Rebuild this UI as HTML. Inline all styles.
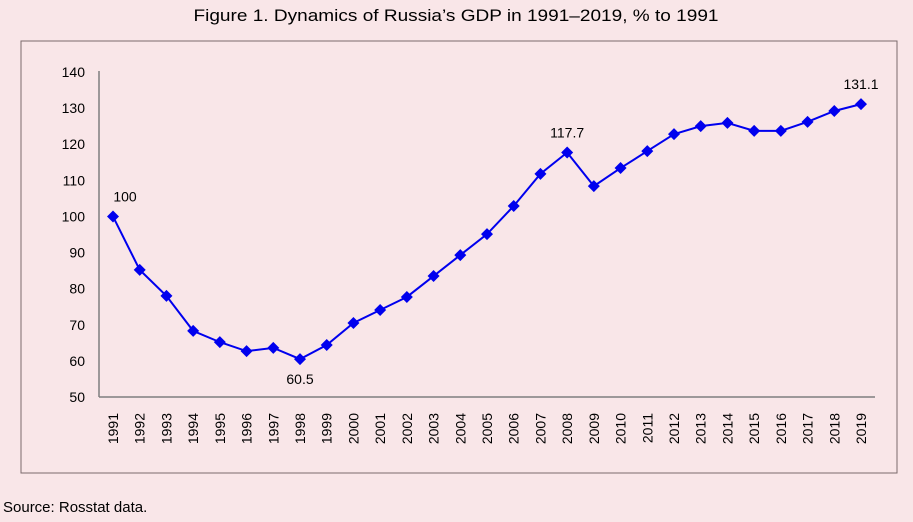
<!DOCTYPE html>
<html><head><meta charset="utf-8"><style>
body{margin:0;width:913px;height:517px;background:#f9e6e8;font-family:"Liberation Sans",sans-serif;overflow:hidden}
</style></head><body>
<svg width="913" height="517">
<rect x="0" y="0" width="913" height="517" fill="#f9e6e8"/>
<text x="456" y="21" text-anchor="middle" font-size="17" textLength="525" lengthAdjust="spacingAndGlyphs" fill="#000">Figure 1. Dynamics of Russia’s GDP in 1991–2019, % to 1991</text>
<rect x="21" y="41" width="876" height="432" fill="none" stroke="#7a6a6c" stroke-width="1"/>
<text x="3" y="512" font-size="15" fill="#000">Source: Rosstat data.</text>
<g id="axes"></g><g id="marks"></g>
</svg>
<script>
const years=[1991,1992,1993,1994,1995,1996,1997,1998,1999,2000,2001,2002,2003,2004,2005,2006,2007,2008,2009,2010,2011,2012,2013,2014,2015,2016,2017,2018,2019];
const gdp=[100,85.2,78,68.3,65.2,62.7,63.6,60.5,64.4,70.5,74.1,77.7,83.5,89.3,95.1,102.9,111.8,117.7,108.4,113.4,118.1,122.8,125,125.9,123.7,123.7,126.2,129.2,131.1];
const yTicks=[50,60,70,80,90,100,110,120,130,140];
const labeled=[1991,1998,2008,2019];
const NS="http://www.w3.org/2000/svg";
function xs(i){return 113+i*(861-113)/(years.length-1);}
function ys(v){return 397-(v-50)*(397-72)/90;}
function mk(t,a,p){const e=document.createElementNS(NS,t);for(const k in a)e.setAttribute(k,a[k]);p.appendChild(e);return e;}
const ax=document.getElementById('axes'),mg=document.getElementById('marks');
const yl=mk('line',{x1:99,y1:ys(140)-1,x2:99,y2:397,stroke:'#7f7f7f','stroke-width':1.5},ax);


const xl=mk('line',{x1:99,y1:397,x2:875,y2:397,stroke:'#7f7f7f','stroke-width':1.5},ax);


yTicks.forEach(v=>{const t=mk('text',{x:85,y:ys(v)+5,'text-anchor':'end','font-size':14,fill:'#000'},ax);t.textContent=v;

});
years.forEach((yr,i)=>{const x=xs(i);const t=mk('text',{x:0,y:0,transform:`translate(${x+5},413) rotate(-90)`,'text-anchor':'end','font-size':14,fill:'#000'},ax);t.textContent=yr;

});
const pl=mk('polyline',{points:gdp.map((v,i)=>xs(i)+','+ys(v)).join(' '),fill:'none',stroke:'#0000ee','stroke-width':2},mg);


gdp.forEach((v,i)=>{const x=xs(i),y=ys(v);const d=mk('polygon',{points:`${x},${y-6} ${x+6},${y} ${x},${y+6} ${x-6},${y}`,fill:'#0000ee'},mg);


if(labeled.includes(years[i])){const below=years[i]===1998;const t=mk('text',{x:x+(years[i]===1991?12:0),y:below?y+25:y-15,'text-anchor':'middle','font-size':14,fill:'#000'},mg);t.textContent=String(v);

}});
</script>
</body></html>
